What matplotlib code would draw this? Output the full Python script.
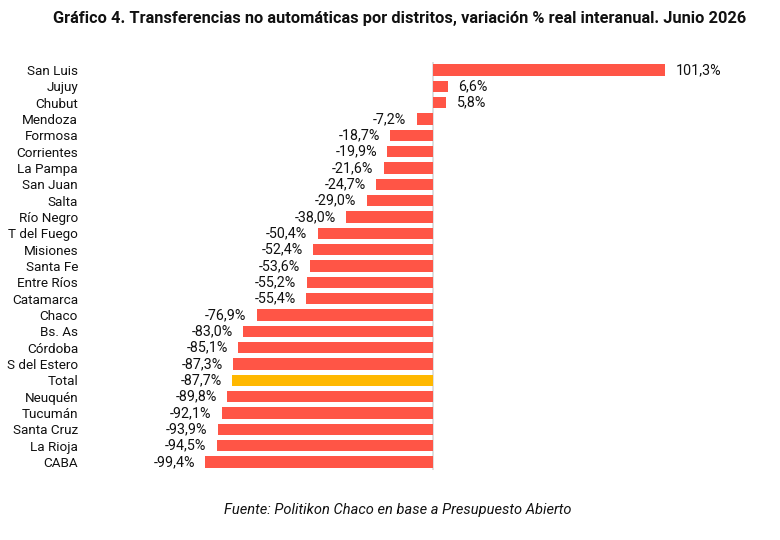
import matplotlib
matplotlib.use('Agg')
import matplotlib.pyplot as plt

# ── data ──────────────────────────────────────────────────────────────────────
districts = ['San Luis', 'Jujuy', 'Chubut', 'Mendoza', 'Formosa', 'Corrientes',
             'La Pampa', 'San Juan', 'Salta', 'Río Negro', 'T del Fuego',
             'Misiones', 'Santa Fe', 'Entre Ríos', 'Catamarca', 'Chaco',
             'Bs. As', 'Córdoba', 'S del Estero', 'Total', 'Neuquén',
             'Tucumán', 'Santa Cruz', 'La Rioja', 'CABA']
variation = [101.3, 6.6, 5.8, -7.2, -18.7, -19.9, -21.6, -24.7, -29.0, -38.0,
             -50.4, -52.4, -53.6, -55.2, -55.4, -76.9, -83.0, -85.1, -87.3,
             -87.7, -89.8, -92.1, -93.9, -94.5, -99.4]

title = 'Gráfico 4. Transferencias no automáticas por distritos, variación % real interanual. Junio 2026'
source = 'Fuente: Politikon Chaco en base a Presupuesto Abierto'

RED  = '#FF5546'
GOLD = '#FFB800'

plt.rcParams['font.family'] = ['Roboto', 'DejaVu Sans']

fig = plt.figure(figsize=(7.8, 5.4), dpi=100)
ax = fig.add_axes([85 / 780, 1 - 470.2 / 540, 655 / 780, 408.4 / 540])

ypos = list(range(len(districts)))
colors = [GOLD if d == 'Total' else RED for d in districts]
ax.barh(ypos, variation, height=0.68, color=colors, zorder=2)
ax.axvline(0, color='#d9d9d9', lw=1.2, zorder=1)

for y, v in zip(ypos, variation):
    lbl = f'{v:.1f}%'.replace('.', ',')
    off = 7.5 if v >= 0 else -7.5
    ax.annotate(lbl, (v, y), xytext=(off, 0), textcoords='offset points',
                ha='left' if v >= 0 else 'right', va='center', fontsize=10.3,
                color='#111111')

ax.set_xlim((85 - 433) / 2.29, (740 - 433) / 2.29)
ax.set_ylim(len(districts) - 0.5, -0.5)
ax.set_yticks(ypos)
ax.set_yticklabels(districts, fontsize=9.7, color='#111111')
ax.tick_params(axis='y', length=0, pad=5)
ax.set_xticks([])
for s in ax.spines.values():
    s.set_visible(False)

fig.text(400 / 780, 1 - 19 / 540, title, ha='center', va='center',
         fontsize=11.8, fontweight='bold', color='#111111')
fig.text(398 / 780, 1 - 510 / 540, source, ha='center', va='center',
         fontsize=10.5, style='italic', color='#111111')

plt.savefig('out.png', dpi=100)
